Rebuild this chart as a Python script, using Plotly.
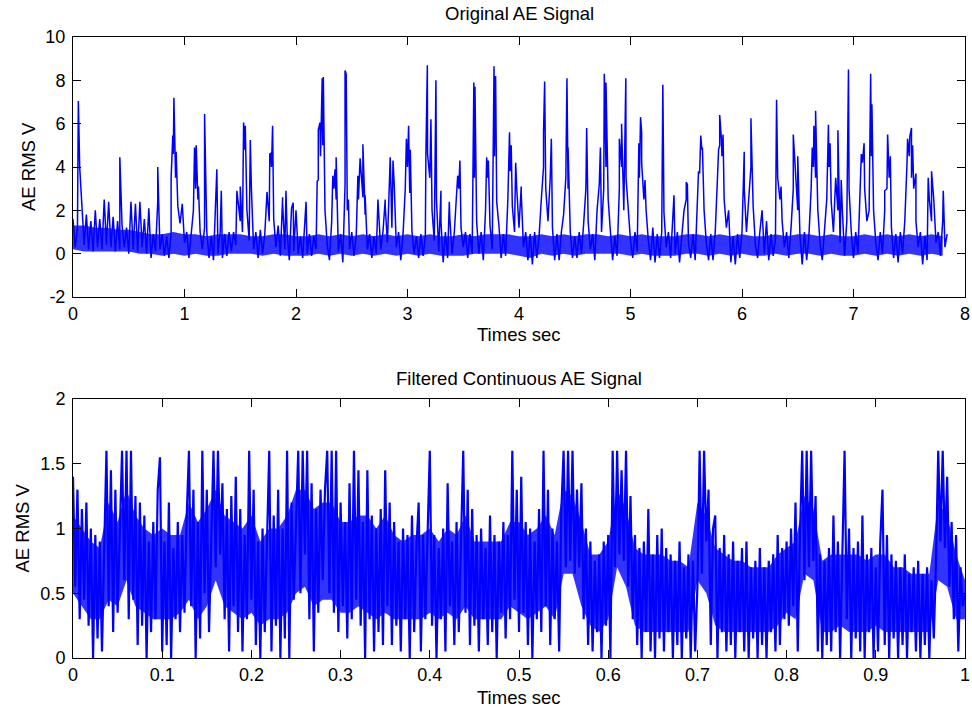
import numpy as np
import plotly.graph_objects as go

# ---------------- data: Original AE Signal (top) ----------------
top_dt = 0.02  # sample spacing of the read-off baseline, seconds
top_base = [
    1.6, 0.3, 1.2, 4.0, 2.4, 0.4, 1.8, 0.2, 1.5, 0.1, 2.0, 0.3, 1.6, 0.2, 2.5, 0.4, 2.4, 0.3, 1.7, 0.1, 1.5, 0.2, 1.3, 0.3, 1.2,
    0.0, 2.4, 0.2, 2.3, 0.1, 2.4, 0.3, 1.6, 0.0, 2.1, -0.2, 0.9, 0.1, 2.4, 0.2, 0.9, -0.1, 0.8, -0.2, 1.0, 4.6, 3.5, 2.2, 1.4, 2.3,
    0.5, 1.0, -0.2, 0.8, 2.0, 3.0, 2.5, 1.0, 0.2, 1.2, 1.0, -0.2, 0.8, -0.3, 2.4, 0.0, 1.0, -0.2, 0.9, -0.1, 1.0, 0.1, 1.0, 0.4, 2.5,
    1.5, 1.0, 4.8, 2.0, 0.6, 3.0, 0.2, 1.0, -0.2, 1.1, 0.0, 0.9, 2.8, 1.5, 4.0, 1.6, 0.3, 1.3, -0.1, 2.3, 0.2, 1.0, -0.3, 2.1, 0.1,
    2.0, 0.0, 0.8, -0.2, 1.5, 0.0, 0.9, -0.1, 0.8, 0.2, 3.4, 4.5, 5.0, 2.0, 0.4, -0.3, 1.5, 3.0, 2.5, 0.1, 0.9, -0.4, 3.2, 2.0, 0.2,
    1.0, -0.1, 0.8, 2.5, 4.0, 2.6, 1.8, 0.2, 0.9, -0.2, 0.8, 0.0, 2.0, 0.2, 1.0, 2.2, 0.5, 3.0, 1.2, 3.3, 0.3, 1.0, -0.3, 0.9, 3.0,
    4.0, 2.8, 1.0, 0.0, 0.8, -0.2, 0.9, -0.1, 0.8, 4.6, 3.5, 2.0, 0.6, 2.5, 0.1, 1.5, -0.4, 1.0, -0.2, 1.6, 0.0, 1.0, 2.5, 3.0, 1.2,
    0.3, 1.0, -0.2, 0.9, 0.0, 3.5, 1.5, 0.0, 1.0, -0.3, 2.0, 3.5, 1.3, 0.2, 4.5, 2.4, 1.3, -0.2, 0.9, -0.1, 2.5, 3.8, 2.2, 1.0, 3.0,
    1.2, 2.8, 0.3, 1.0, -0.3, 0.9, -0.5, 1.0, -0.2, 0.8, 2.5, 4.0, 3.0, 1.5, 3.5, 1.2, -0.3, 0.9, -0.3, 1.0, 1.8, 3.5, 3.0, 1.0, -0.2,
    0.8, -0.2, 1.0, 0.0, 1.4, 3.0, 1.5, 0.2, 0.9, -0.3, 2.0, 3.2, 1.0, 3.0, 4.0, 2.5, 1.0, -0.3, 0.8, -0.1, 3.0, 4.0, 2.0, 3.5, 1.8,
    0.6, -0.2, 1.0, 0.1, 3.5, 4.2, 2.5, 2.0, 0.6, -0.3, 1.2, -0.4, 0.9, -0.2, 1.0, 1.9, 0.3, 1.0, -0.2, 2.0, 0.0, 1.0, -0.4, 1.0, 2.0,
    2.5, 0.5, -0.2, 0.9, -0.3, 2.0, 3.7, 4.8, 2.0, 0.5, -0.3, 0.9, -0.3, 1.0, 3.5, 5.0, 4.5, 2.5, 1.2, 2.0, -0.4, 0.8, -0.5, 0.9, -0.2,
    1.0, 3.0, 1.0, 2.5, 4.0, 2.2, 0.4, -0.2, 1.0, 2.0, 0.0, 1.5, -0.3, 0.9, -0.1, 0.7, 3.5, 2.5, 1.5, 0.3, 1.0, -0.2, 1.2, 3.0, 3.4,
    2.0, 0.8, -0.5, 1.0, -0.3, 0.8, 3.0, 4.0, 3.5, 2.0, 0.5, -0.3, 1.0, 2.5, 4.0, 2.4, 1.0, 3.5, 2.0, 0.5, 2.0, -0.1, 1.5, 3.0, 1.0,
    -0.2, 1.0, 0.0, 3.0, 4.2, 3.0, 1.5, 2.0, 4.5, 2.0, 0.5, -0.3, 1.0, 0.0, 2.0, 3.0, 3.5, 1.2, -0.2, 0.9, -0.4, 1.0, 0.0, 1.5, 4.2,
    4.5, 3.5, 3.0, 1.5, 0.3, 1.0, -0.5, 0.8, -0.3, 2.5, 1.5, 2.5, 0.5, 1.0, -0.1, 1.5, 0.3, 0.9,
]
peak_t = [
    0.048, 0.42, 0.76, 0.88, 0.895, 0.905, 0.915, 0.925, 0.975,
    1.09, 1.105, 1.125, 1.18, 1.19, 1.29, 1.33, 1.47, 1.50, 1.53, 1.545, 1.59, 1.74, 1.765, 1.775, 1.79, 1.88, 1.91, 1.975,
    2.09, 2.19, 2.20, 2.215, 2.235, 2.245, 2.33, 2.35, 2.36, 2.44, 2.45, 2.47, 2.555, 2.575, 2.60, 2.62, 2.735, 2.80, 2.845, 2.87, 2.99, 3.01, 3.025,
    3.165, 3.178, 3.21, 3.255, 3.30, 3.375, 3.45, 3.47, 3.595, 3.605, 3.71, 3.725, 3.776, 3.79, 3.915, 3.93, 3.97,
    4.02, 4.22, 4.23, 4.29, 4.43, 4.44, 4.607, 4.73, 4.765, 4.78, 4.90, 4.92, 4.945, 4.958,
    5.075, 5.09, 5.10, 5.13, 5.29, 5.39, 5.50, 5.51, 5.61, 5.63, 5.645, 5.79, 5.80, 5.815, 5.83,
    6.02, 6.07, 6.08, 6.31, 6.315, 6.35, 6.46, 6.50, 6.63, 6.645, 6.66, 6.775, 6.79, 6.86, 6.89, 6.955,
    7.07, 7.095, 7.154, 7.165, 7.28, 7.306, 7.33, 7.485, 7.505, 7.52, 7.53, 7.56, 7.67, 7.70, 7.805,
]
peak_v = [
    7.05, 4.45, 4.0, 3.5, 5.45, 7.2, 5.5, 4.7, 2.3,
    4.9, 5.0, 3.1, 6.45, 3.4, 3.9, 2.9, 2.9, 3.1, 6.05, 5.9, 5.25, 2.85, 4.6, 4.65, 5.9, 2.6, 2.9, 2.35,
    2.4, 3.35, 5.7, 6.05, 8.1, 8.15, 3.6, 3.9, 4.45, 8.45, 8.3, 2.5, 3.6, 4.4, 5.05, 2.7, 2.5, 2.5, 4.45, 4.3, 5.3, 5.9, 4.8,
    4.6, 8.7, 6.2, 8.0, 2.9, 2.4, 3.6, 4.3, 7.9, 7.7, 4.45, 4.3, 8.65, 8.2, 5.6, 5.0, 4.2,
    3.1, 5.6, 7.95, 5.3, 8.1, 4.9, 5.8, 4.9, 8.3, 7.9, 5.3, 6.0, 4.6, 8.1,
    5.1, 6.3, 5.6, 3.4, 7.8, 2.7, 3.3, 3.2, 3.8, 5.45, 4.9, 4.8, 6.4, 5.3, 5.5,
    4.7, 3.0, 6.25, 7.1, 5.1, 3.1, 5.5, 4.5, 4.9, 5.9, 6.6, 5.95, 5.1, 5.7, 3.4, 8.5,
    4.6, 5.1, 8.3, 6.9, 2.9, 5.5, 4.5, 5.3, 5.4, 5.8, 5.0, 3.7, 3.5, 3.8, 2.9,
]
# dense core of the noise band (read as lower / upper edge every 0.1 s)
top_band_dt = 0.1
top_band_lo = [
    0.2, 0.1, 0.1, 0.1, 0.1, 0.1, 0.0, 0.0, -0.1, 0.0, -0.1, 0.0, -0.1, -0.1, 0.0, 0.0, 0.0, -0.1, 0.0, -0.1,
    -0.1, -0.1, 0.0, -0.1, 0.0, -0.1, 0.0, -0.1, 0.0, -0.1, 0.0, -0.1, 0.0, -0.1, -0.1, -0.1, 0.0, 0.0, 0.0, 0.0,
    -0.1, -0.2, 0.0, -0.1, 0.0, -0.1, 0.0, 0.0, 0.0, 0.0, -0.1, 0.0, -0.1, -0.1, -0.1, 0.0, 0.0, -0.1, 0.0, -0.1,
    0.0, -0.1, -0.1, 0.0, -0.1, 0.0, 0.0, -0.1, 0.0, -0.1, -0.1, 0.0, -0.1, 0.0, -0.1, 0.0, -0.1, 0.0, -0.1,
]
top_band_hi = [
    1.3, 1.3, 1.2, 1.2, 1.1, 1.1, 1.0, 0.9, 0.9, 1.0, 0.9, 0.9, 0.8, 0.9, 0.9, 0.9, 0.8, 0.8, 0.9, 0.9,
    0.8, 0.8, 0.9, 0.8, 0.9, 0.8, 0.9, 0.8, 0.9, 0.8, 0.9, 0.8, 0.9, 0.8, 0.8, 0.9, 0.8, 0.9, 0.9, 0.9,
    0.8, 0.8, 0.9, 0.8, 0.9, 0.8, 0.9, 0.9, 0.8, 0.9, 0.8, 0.9, 0.8, 0.8, 0.8, 0.9, 0.9, 0.8, 0.9, 0.8,
    0.9, 0.8, 0.8, 0.9, 0.8, 0.9, 0.9, 0.8, 0.9, 0.8, 0.8, 0.9, 0.8, 0.9, 0.8, 0.9, 0.8, 0.9, 0.8,
]

# ---------------- data: Filtered Continuous AE Signal (bottom) ----------------
bot_dt = 0.0025
bot_vals = [
    1.40, 0.55, 1.30, 0.30, 1.15, 0.45, 1.20, 0.25, 1.00, 0.00, 0.95, 0.15, 0.90, 0.05, 0.85, 1.60, 0.40, 1.45, 0.20, 1.30,
    0.35, 1.10, 1.60, 0.60, 1.60, 0.30, 1.60, 0.45, 1.25, 0.10, 1.20, 0.25, 1.10, 0.00, 0.90, 0.20, 1.05, 0.30, 1.30, 1.55,
    0.05, 0.90, 0.10, 1.20, 0.00, 0.85, 0.30, 1.05, 0.20, 0.95, 0.35, 1.10, 1.60, 0.40, 1.30, 0.00, 1.05, 0.15, 1.60, 0.50,
    1.30, 0.20, 1.00, 1.60, 0.70, 1.60, 0.80, 1.35, 0.30, 1.15, 0.05, 1.25, 0.40, 1.40, 0.20, 1.15, 0.05, 0.95, 0.30, 1.60,
    0.45, 1.30, 0.10, 0.90, 0.00, 1.00, 0.20, 0.85, 1.60, 0.05, 1.10, 0.25, 1.30, 0.00, 1.00, 0.15, 1.60, 0.00, 1.20, 0.45,
    1.05, 1.60, 0.50, 1.60, 0.80, 1.60, 0.30, 1.35, 0.05, 1.15, 0.35, 1.30, 0.60, 1.30, 1.60, 0.50, 1.60, 0.35, 1.60, 0.20,
    1.20, 0.40, 1.05, 0.15, 1.35, 0.30, 1.60, 0.45, 1.45, 0.25, 1.05, 0.00, 1.45, 0.30, 1.10, 0.05, 1.00, 0.20, 1.15, 0.10,
    1.45, 0.40, 1.20, 0.10, 1.05, 0.25, 0.90, 0.05, 1.00, 0.30, 0.95, 0.00, 1.10, 0.20, 0.85, 1.20, 0.05, 0.95, 0.30, 1.05,
    1.60, 0.25, 0.95, 0.00, 0.85, 0.30, 1.00, 0.05, 1.35, 0.40, 0.90, 0.10, 1.05, 0.20, 0.95, 1.60, 0.35, 1.30, 0.10, 1.15,
    0.25, 0.95, 0.05, 1.00, 0.30, 0.85, 0.10, 1.10, 0.20, 0.95, 0.00, 0.90, 0.35, 1.05, 0.15, 0.95, 0.30, 1.60, 0.45, 1.30,
    0.20, 1.40, 0.35, 1.05, 0.10, 1.00, 0.00, 0.90, 0.30, 1.15, 0.20, 1.60, 0.40, 1.30, 0.10, 1.00, 0.30, 0.90, 0.05, 1.15,
    1.60, 0.70, 1.60, 0.75, 1.60, 0.65, 1.30, 0.70, 1.35, 0.30, 1.00, 0.10, 0.90, 0.05, 0.75, 0.20, 0.80, 0.00, 0.90, 0.25,
    0.95, 0.00, 1.60, 0.70, 1.60, 0.80, 1.45, 0.75, 1.60, 0.55, 1.25, 0.30, 0.95, 0.10, 0.85, 0.00, 0.90, 0.20, 1.15, 0.05,
    0.80, 0.00, 0.95, 0.15, 1.00, 0.05, 0.85, 0.20, 0.80, 0.00, 0.75, 0.10, 0.90, 0.00, 0.70, 0.15, 0.80, 0.00, 0.75, 0.05,
    0.55, 1.60, 0.65, 1.60, 0.90, 1.30, 0.10, 1.00, 1.10, 0.00, 0.85, 0.20, 0.95, 0.05, 0.80, 0.10, 0.90, 0.00, 0.75, 0.20,
    0.85, 0.05, 0.90, 0.00, 0.70, 0.15, 0.75, 0.00, 0.85, 0.10, 0.70, 0.00, 0.75, 0.20, 0.80, 0.05, 0.95, 0.10, 0.85, 0.30,
    0.90, 0.25, 1.00, 0.40, 1.20, 0.05, 0.95, 1.60, 0.60, 1.60, 0.70, 1.60, 0.75, 1.25, 0.05, 0.80, 0.00, 0.75, 0.10, 0.85,
    0.05, 1.10, 0.20, 0.90, 0.00, 0.95, 1.60, 0.30, 1.00, 0.00, 0.85, 0.15, 0.90, 0.05, 1.10, 0.00, 0.80, 0.20, 0.85, 0.00,
    0.70, 0.05, 0.90, 1.30, 0.10, 0.95, 0.00, 0.80, 0.15, 0.75, 0.00, 0.70, 0.10, 0.80, 0.00, 0.65, 0.20, 0.70, 0.05, 0.75,
    0.00, 0.65, 0.10, 0.70, 0.00, 0.60, 0.15, 0.75, 1.60, 0.90, 1.60, 0.85, 1.40, 0.55, 1.05, 0.30, 0.95, 0.05, 0.70, 0.40,
    0.50,
]
# dense core of the bottom band (lower / upper edge every 0.01 s)
bot_band_dt = 0.01
bot_band_lo = [
    0.50, 0.40, 0.30, 0.30, 0.45, 0.40, 0.60, 0.40, 0.35, 0.30,
    0.30, 0.30, 0.35, 0.45, 0.30, 0.40, 0.60, 0.40, 0.35, 0.30,
    0.35, 0.25, 0.30, 0.30, 0.35, 0.50, 0.55, 0.40, 0.45, 0.45,
    0.35, 0.35, 0.40, 0.35, 0.30, 0.35, 0.30, 0.30, 0.30, 0.30,
    0.35, 0.30, 0.35, 0.30, 0.40, 0.30, 0.30, 0.30, 0.30, 0.40,
    0.35, 0.30, 0.35, 0.40, 0.30, 0.65, 0.65, 0.40, 0.25, 0.20,
    0.30, 0.70, 0.55, 0.25, 0.20, 0.20, 0.20, 0.20, 0.20, 0.20,
    0.60, 0.50, 0.25, 0.20, 0.20, 0.20, 0.20, 0.20, 0.20, 0.25,
    0.35, 0.30, 0.65, 0.60, 0.20, 0.20, 0.25, 0.20, 0.20, 0.20,
    0.25, 0.20, 0.20, 0.20, 0.20, 0.20, 0.20, 0.60, 0.55, 0.30,
    0.30,
]
bot_band_hi = [
    1.10, 1.00, 0.90, 0.85, 1.20, 1.05, 1.30, 1.10, 1.00, 0.95,
    1.00, 0.95, 0.95, 1.20, 1.05, 1.15, 1.30, 1.10, 1.05, 1.00,
    1.10, 0.90, 1.00, 1.00, 1.10, 1.30, 1.30, 1.15, 1.20, 1.20,
    1.05, 1.05, 1.10, 1.10, 1.00, 1.10, 0.95, 0.90, 0.95, 0.95,
    1.00, 0.90, 1.00, 0.95, 1.10, 0.90, 0.90, 0.90, 0.90, 1.05,
    1.05, 0.95, 1.00, 1.10, 0.95, 1.30, 1.25, 1.05, 0.80, 0.80,
    0.90, 1.30, 1.15, 0.85, 0.80, 0.80, 0.80, 0.75, 0.75, 0.70,
    1.20, 1.10, 0.85, 0.80, 0.75, 0.75, 0.70, 0.70, 0.70, 0.80,
    0.85, 0.90, 1.25, 1.15, 0.75, 0.80, 0.80, 0.80, 0.80, 0.75,
    0.80, 0.80, 0.70, 0.70, 0.65, 0.65, 0.65, 1.20, 1.10, 0.80,
    0.60,
]

top_xticks = [0, 1, 2, 3, 4, 5, 6, 7, 8]
top_yticks = [-2, 0, 2, 4, 6, 8, 10]
top_yticktext = ["-2", "0", "2", "4", "6", "8", "10"]
bot_xticks = [0, 0.1, 0.2, 0.3, 0.4, 0.5, 0.6, 0.7, 0.8, 0.9, 1]
bot_xticktext = ["0", "0.1", "0.2", "0.3", "0.4", "0.5", "0.6", "0.7", "0.8", "0.9", "1"]
bot_yticks = [0, 0.5, 1, 1.5, 2]
bot_yticktext = ["0", "0.5", "1", "1.5", "2"]

# ---------------- assemble series ----------------
t_base = np.arange(len(top_base)) * top_dt
t_all = np.concatenate([t_base, np.array(peak_t)])
v_all = np.concatenate([np.array(top_base), np.array(peak_v)])
order = np.argsort(t_all, kind="stable")
t_top = t_all[order]
v_top = v_all[order]
t_top_band = np.arange(len(top_band_lo)) * top_band_dt

t_bot = np.arange(len(bot_vals)) * bot_dt
t_bot_band = np.arange(len(bot_band_lo)) * bot_band_dt

W, H = 972, 710
FONT = "Liberation Sans, Arial, Helvetica, sans-serif"
BLUE = "#0000FF"
BAND = "rgba(0,0,255,0.8)"

fig = go.Figure()
# dense cores of the noise bands (filled between lower and upper edge)
fig.add_trace(go.Scatter(x=t_top_band, y=top_band_lo, mode="lines", line=dict(width=0),
                         xaxis="x", yaxis="y", showlegend=False, hoverinfo="skip"))
fig.add_trace(go.Scatter(x=t_top_band, y=top_band_hi, mode="lines", line=dict(width=0),
                         fill="tonexty", fillcolor=BAND,
                         xaxis="x", yaxis="y", showlegend=False, hoverinfo="skip"))
fig.add_trace(go.Scatter(x=t_bot_band, y=bot_band_lo, mode="lines", line=dict(width=0),
                         xaxis="x2", yaxis="y2", showlegend=False, hoverinfo="skip"))
fig.add_trace(go.Scatter(x=t_bot_band, y=bot_band_hi, mode="lines", line=dict(width=0),
                         fill="tonexty", fillcolor=BAND,
                         xaxis="x2", yaxis="y2", showlegend=False, hoverinfo="skip"))
# the signals
fig.add_trace(go.Scatter(x=t_top, y=v_top, mode="lines",
                         line=dict(color=BLUE, width=1.5), xaxis="x", yaxis="y",
                         showlegend=False, hoverinfo="skip"))
fig.add_trace(go.Scatter(x=t_bot, y=bot_vals, mode="lines",
                         line=dict(color=BLUE, width=2.2), xaxis="x2", yaxis="y2",
                         showlegend=False, hoverinfo="skip"))

def px_x(p):
    return p / W

def px_y(p):
    return 1 - p / H

X0, X1 = 73, 965
T0, T1 = 37, 297
B0, B1 = 399, 658

axis_common = dict(showline=True, linecolor="black", linewidth=1, mirror="ticks",
                   ticks="inside", ticklen=8, tickwidth=1, tickcolor="black",
                   showgrid=False, zeroline=False, automargin=False, layer="above traces",
                   tickfont=dict(family=FONT, size=18, color="black"))

fig.update_layout(
    width=W, height=H,
    margin=dict(l=0, r=0, t=0, b=0),
    paper_bgcolor="white", plot_bgcolor="white",
    font=dict(family=FONT, size=18, color="black"),
    xaxis=dict(domain=[px_x(X0), px_x(X1)], range=[0, 8], anchor="y",
               tickmode="array", tickvals=top_xticks, **axis_common),
    yaxis=dict(domain=[px_y(T1), px_y(T0)], range=[-2, 10], anchor="x",
               tickmode="array", tickvals=top_yticks, ticktext=top_yticktext,
               ticklabelstandoff=3, **axis_common),
    xaxis2=dict(domain=[px_x(X0), px_x(X1)], range=[0, 1], anchor="y2",
                tickmode="array", tickvals=bot_xticks, ticktext=bot_xticktext, **axis_common),
    yaxis2=dict(domain=[px_y(B1), px_y(B0)], range=[0, 2], anchor="x2",
                tickmode="array", tickvals=bot_yticks, ticktext=bot_yticktext,
                ticklabelstandoff=3, **axis_common),
)

cx = px_x((X0 + X1) / 2)
ann = [
    dict(text="Original AE Signal", x=cx, y=px_y(14), xref="paper", yref="paper",
         showarrow=False, xanchor="center", yanchor="middle", font=dict(family=FONT, size=18.5)),
    dict(text="Times sec", x=cx, y=px_y(334), xref="paper", yref="paper",
         showarrow=False, xanchor="center", yanchor="middle", font=dict(family=FONT, size=18.5)),
    dict(text="AE RMS V", x=px_x(28), y=px_y((T0 + T1) / 2), xref="paper", yref="paper",
         showarrow=False, xanchor="center", yanchor="middle", textangle=-90, font=dict(family=FONT, size=18.5)),
    dict(text="Filtered Continuous AE Signal", x=cx, y=px_y(379), xref="paper", yref="paper",
         showarrow=False, xanchor="center", yanchor="middle", font=dict(family=FONT, size=18.5)),
    dict(text="Times sec", x=cx, y=px_y(697), xref="paper", yref="paper",
         showarrow=False, xanchor="center", yanchor="middle", font=dict(family=FONT, size=18.5)),
    dict(text="AE RMS V", x=px_x(22), y=px_y((B0 + B1) / 2), xref="paper", yref="paper",
         showarrow=False, xanchor="center", yanchor="middle", textangle=-90, font=dict(family=FONT, size=18.5)),
]
fig.update_layout(annotations=ann)

fig.write_html(
    "out.html",
    config={"displayModeBar": False},
    post_script="document.body.style.margin='0px';document.body.style.padding='0px';"
                "document.documentElement.style.overflow='hidden';",
)
